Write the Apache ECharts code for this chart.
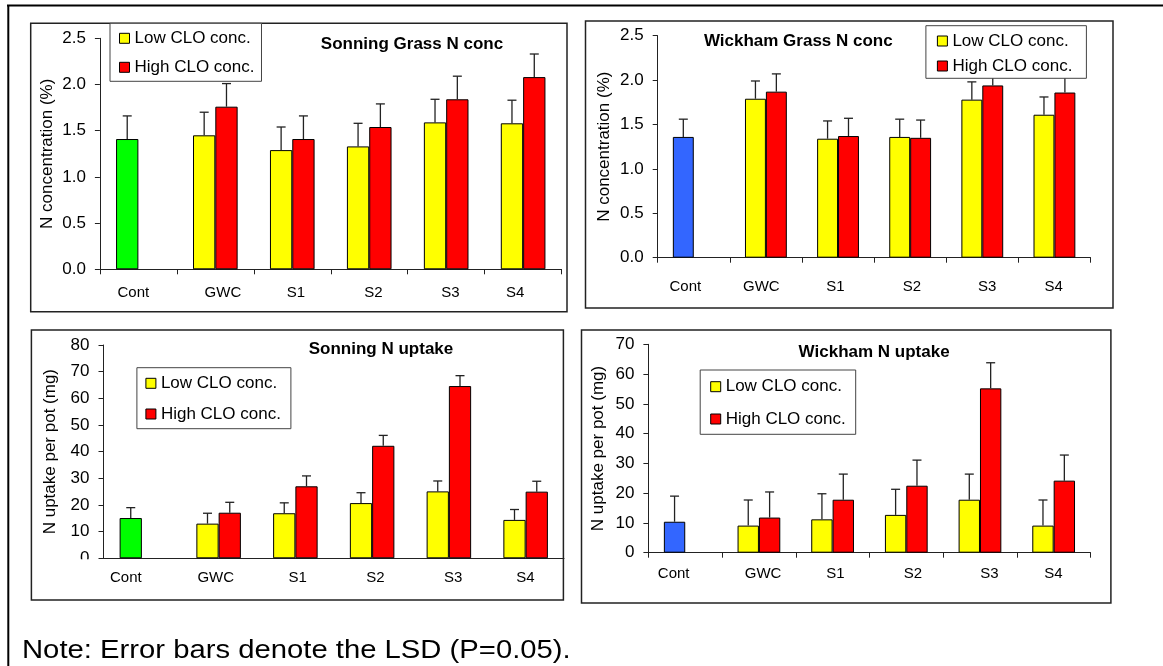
<!DOCTYPE html>
<html>
<head>
<meta charset="utf-8">
<script src="https://cdn.jsdelivr.net/npm/echarts@6/dist/echarts.min.js"></script>
<style>html,body{margin:0;padding:0;background:#fff;}#chart{width:1163px;height:666px;}</style>
</head>
<body>
<div id="chart"></div>
<script>
// ---- data ----
const categories = ['Cont', 'GWC', 'S1', 'S2', 'S3', 'S4'];
const seriesNames = ['Low CLO conc.', 'High CLO conc.'];
const panelTitles = ['Sonning Grass N conc', 'Wickham Grass N conc', 'Sonning N uptake', 'Wickham N uptake'];
const yAxisNames = ['N concentration (%)', 'N concentration (%)', 'N uptake per pot (mg)', 'N uptake per pot (mg)'];
const yMax = [2.5, 2.5, 80, 70];
const yStep = [0.5, 0.5, 10, 10];
const contValues = [1.41, 1.36, 15.1, 10.4];
const sonConcLow = [1.45, 1.29, 1.33, 1.59, 1.58];
const sonConcHigh = [1.76, 1.41, 1.54, 1.84, 2.08];
const wickConcLow = [1.79, 1.34, 1.36, 1.78, 1.61];
const wickConcHigh = [1.87, 1.37, 1.35, 1.94, 1.86];
const sonUpLow = [13.0, 16.9, 20.7, 25.1, 14.4];
const sonUpHigh = [17.1, 27.0, 42.2, 64.6, 25.0];
const wickUpLow = [9.1, 11.2, 12.7, 17.8, 9.1];
const wickUpHigh = [11.8, 17.8, 22.5, 55.2, 24.2];
const lsdValues = [0.25, 0.2, 3.9, 8.6];
const noteText = 'Note: Error bars denote the LSD (P=0.05).';

const lowSets = [sonConcLow, wickConcLow, sonUpLow, wickUpLow];
const highSets = [sonConcHigh, wickConcHigh, sonUpHigh, wickUpHigh];

// ---- layout / style ----
const FONT = 'Arial, "Liberation Sans", sans-serif';
const contColors = ['#00FF00', '#3366FF', '#00FF00', '#3366FF'];
const layout = [
  {grid: {left: 99.9, top: 38.3, width: 461.7, height: 231}, frame: [30.7, 23.3, 536.3, 288.4],
   legend: {left: 110, top: 23.3, padding: [6.5, 7, 5.5, 9], itemGap: 12}, title: [412, 44], nameGap: 44, labelMargin: 16.5, xTick: true,
   labelShift: [-5, 7.6, 3.6, 4.3, 4.2, -8]},
  {grid: {left: 657.7, top: 35.7, width: 432.8, height: 222}, frame: [585.5, 21, 527.5, 287],
   legend: {left: 925.9, top: 25.7, padding: [6.8, 14, 3.8, 11], itemGap: 8}, title: [798.3, 41.7], nameGap: 45, labelMargin: 21.5, xTick: true,
   labelShift: [-8.4, -4.6, -2.7, 1.8, 4.8, -0.8]},
  {grid: {left: 103.5, top: 345, width: 460.5, height: 213.3}, frame: [31.4, 330, 532, 270],
   legend: {left: 136.9, top: 367.7, padding: [7.1, 10, 6.2, 8.5], itemGap: 13.7}, title: [381, 349.3], nameGap: 45, labelMargin: 12.5, xTick: false,
   labelShift: [-16, -2.9, 2.4, 3.4, 4.3, -0.3]},
  {grid: {left: 648.4, top: 344.3, width: 442.1, height: 208.4}, frame: [581.5, 330, 529.4, 273],
   legend: {left: 700.2, top: 370, padding: [8.2, 10, 6.8, 10], itemGap: 15.3}, title: [874.1, 352.3], nameGap: 41.5, labelMargin: 14, xTick: true,
   labelShift: [-11.6, 4.2, 2.7, 6.7, 9.5, -0.2]}
];
const CAT_GAP = 0.42;
const HALF_SLOT = (1 - CAT_GAP) / 4; // offset of each bar centre from category centre, in bands

const grids = [], xAxes = [], yAxes = [], series = [], legends = [], titles = [], graphics = [];

layout.forEach((L, i) => {
  grids.push(Object.assign({}, L.grid));
  const rich = {};
  L.labelShift.forEach((s, k) => {
    rich['c' + k] = {
      color: '#000', fontSize: 15, fontFamily: FONT,
      padding: s >= 0 ? [0, 0, 0, 2 * s] : [0, -2 * s, 0, 0]
    };
  });
  xAxes.push({
    type: 'category', gridIndex: i, data: categories,
    axisLine: {show: true, lineStyle: {color: '#222', width: 1}},
    axisTick: {show: L.xTick, length: 5, lineStyle: {color: '#222'}},
    axisLabel: {color: '#000', fontSize: 15, fontFamily: FONT, margin: L.labelMargin, interval: 0,
      formatter: (value, idx) => '{c' + idx + '|' + value + '}', rich: rich},
    splitLine: {show: false}
  });
  yAxes.push({
    type: 'value', gridIndex: i, min: 0, max: yMax[i], interval: yStep[i],
    name: yAxisNames[i], nameLocation: 'middle', nameGap: L.nameGap,
    nameTextStyle: {color: '#000', fontSize: 17, fontFamily: FONT},
    axisLine: {show: true, lineStyle: {color: '#222', width: 1}},
    axisTick: {show: true, length: 5, lineStyle: {color: '#222'}},
    axisLabel: {color: '#000', fontSize: 17, fontFamily: FONT, margin: 14,
      formatter: v => (yStep[i] < 1 ? v.toFixed(1) : String(v))},
    splitLine: {show: false}
  });
  const low = [{value: contValues[i], itemStyle: {color: contColors[i]}}].concat(lowSets[i]);
  const high = ['-'].concat(highSets[i]);
  series.push({
    name: seriesNames[0], type: 'bar', xAxisIndex: i, yAxisIndex: i, data: low,
    barGap: '0%', barCategoryGap: (CAT_GAP * 100) + '%',
    itemStyle: {color: '#FFFF00', borderColor: '#000', borderWidth: 1}, emphasis: {disabled: true}
  });
  series.push({
    name: seriesNames[1], type: 'bar', xAxisIndex: i, yAxisIndex: i, data: high,
    barGap: '0%', barCategoryGap: (CAT_GAP * 100) + '%',
    itemStyle: {color: '#FF0000', borderColor: '#000', borderWidth: 1}, emphasis: {disabled: true}
  });
  // error bars: [category index, value, lsd, slot]
  const err = [[0, contValues[i], lsdValues[i], -1]];
  lowSets[i].forEach((v, k) => err.push([k + 1, v, lsdValues[i], -1]));
  highSets[i].forEach((v, k) => err.push([k + 1, v, lsdValues[i], 1]));
  series.push({
    name: 'LSD' + i, type: 'custom', xAxisIndex: i, yAxisIndex: i, data: err, z: 3,
    encode: {x: 0, y: 1}, silent: true,
    renderItem: (params, api) => {
      const c = api.value(0), v = api.value(1), e = api.value(2), s = api.value(3);
      const band = api.size([1, 0])[0];
      const p0 = api.coord([c, v]);
      const p1 = api.coord([c, v + e]);
      const x = p0[0] + s * band * HALF_SLOT;
      const st = {stroke: '#222', lineWidth: 1.3};
      return {type: 'group', children: [
        {type: 'line', shape: {x1: x, y1: p0[1], x2: x, y2: p1[1]}, style: st},
        {type: 'line', shape: {x1: x - 4.5, y1: p1[1], x2: x + 4.5, y2: p1[1]}, style: st}
      ]};
    }
  });
  legends.push({
    data: seriesNames, orient: 'vertical', left: L.legend.left, top: L.legend.top,
    padding: L.legend.padding, itemGap: L.legend.itemGap, itemWidth: 10, itemHeight: 10,
    icon: 'rect', selectedMode: false, backgroundColor: '#fff', borderColor: '#444', borderWidth: 1,
    itemStyle: {borderColor: '#000', borderWidth: 1},
    textStyle: {color: '#000', fontSize: 17, fontFamily: FONT}
  });
  titles.push({
    text: panelTitles[i], left: L.title[0], top: L.title[1] - 8.5, textAlign: 'center', padding: 0,
    textStyle: {color: '#000', fontSize: 17, fontWeight: 'bold', fontFamily: FONT}
  });
  graphics.push({
    type: 'rect', z: -10, silent: true,
    shape: {x: L.frame[0], y: L.frame[1], width: L.frame[2], height: L.frame[3]},
    style: {fill: '#fff', stroke: '#222', lineWidth: 1.5}
  });
});

// outer frame lines
graphics.push({type: 'line', silent: true, shape: {x1: 7, y1: 5.5, x2: 1163, y2: 5.5}, style: {stroke: '#000', lineWidth: 2}});
graphics.push({type: 'line', silent: true, shape: {x1: 8.3, y1: 5, x2: 8.3, y2: 666}, style: {stroke: '#000', lineWidth: 2}});
// the "0" tick label of the Sonning N uptake panel is cut by the axis in the original
graphics.push({type: 'rect', silent: true, z: 100, shape: {x: 68, y: 559.2, width: 33, height: 10}, style: {fill: '#fff'}});
// note
graphics.push({type: 'text', silent: true, x: 22, y: 651, scaleX: 1.17,
  style: {text: noteText, fill: '#000', font: '25px ' + FONT, textAlign: 'left', textVerticalAlign: 'middle'}});

const chart = echarts.init(document.getElementById('chart'), null, {renderer: 'canvas', width: 1163, height: 666});
chart.setOption({
  animation: false,
  backgroundColor: '#fff',
  textStyle: {fontFamily: FONT},
  title: titles,
  legend: legends,
  grid: grids,
  xAxis: xAxes,
  yAxis: yAxes,
  series: series,
  graphic: {elements: graphics}
});
</script>
</body>
</html>
